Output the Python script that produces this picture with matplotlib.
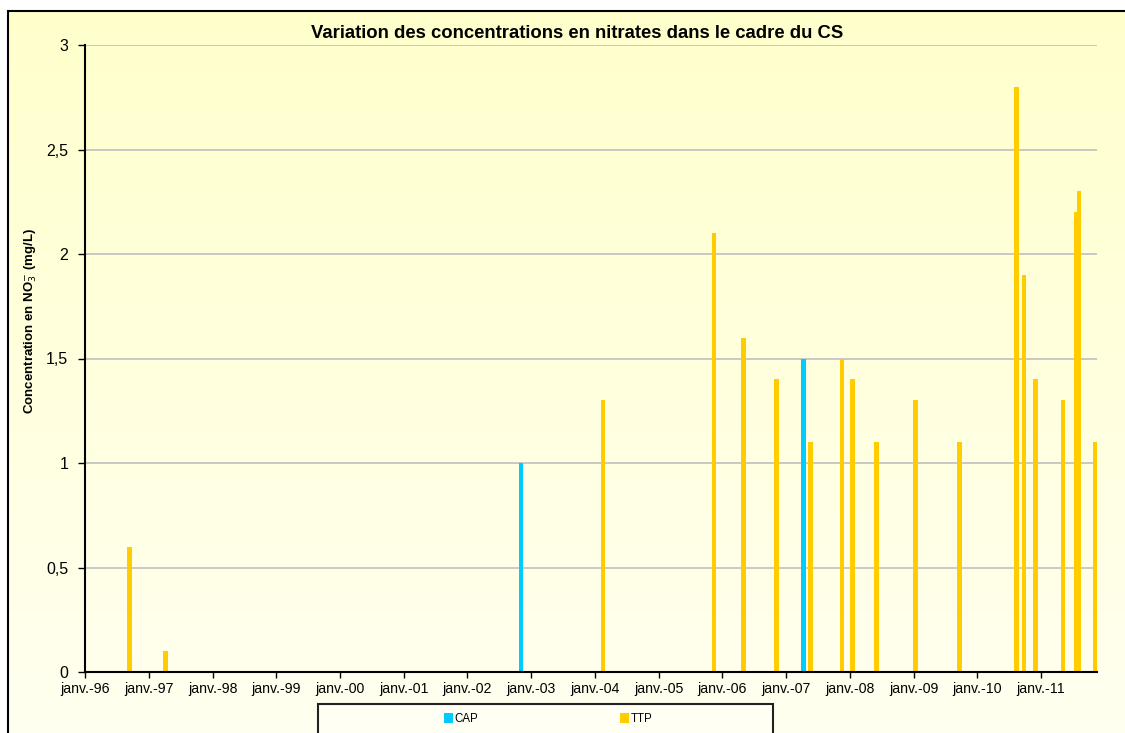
import numpy as np
import matplotlib
matplotlib.use("Agg")
import matplotlib.pyplot as plt
import matplotlib.dates as mdates
from matplotlib.patches import Rectangle
import pandas as pd

plt.rcParams['font.family'] = ['Liberation Sans', 'DejaVu Sans']

title = "Variation des concentrations en nitrates dans le cadre du CS"
ylabel = "Concentration en NO$_3^{-}$ (mg/L)"

cap_dates = ["2002-11-05", "2007-04-10"]
cap_values = [1.0, 1.5]

ttp_dates = ["1996-09-12", "1997-04-05", "2004-02-18", "2005-11-15", "2006-05-01",
             "2006-11-06", "2007-05-22", "2007-11-18", "2008-01-18", "2008-06-03",
             "2009-01-12", "2009-09-20", "2010-08-15", "2010-09-25", "2010-11-29",
             "2011-05-08", "2011-07-23", "2011-08-07", "2011-11-10"]
ttp_values = [0.6, 0.1, 1.3, 2.1, 1.6,
              1.4, 1.1, 1.5, 1.4, 1.1,
              1.3, 1.1, 2.8, 1.9, 1.4,
              1.3, 2.2, 2.3, 1.1]

tick_years = list(range(1996, 2012))
tick_labels = ["janv.-%02d" % (y % 100) for y in tick_years]
yticks = [0, 0.5, 1, 1.5, 2, 2.5, 3]
ytick_labels = ["0", "0,5", "1", "1,5", "2", "2,5", "3"]

W, H = 1125, 733
fig = plt.figure(figsize=(W / 100, H / 100), dpi=100)
fig.patch.set_facecolor("white")

# gradient background inside the outer border
bg = fig.add_axes([0, 0, 1, 1], zorder=-10)
grad = np.linspace(0, 1, 256).reshape(-1, 1)
top_c = np.array([255, 255, 204]) / 255.0
bot_c = np.array([255, 255, 240]) / 255.0
img = bot_c[None, None, :] * (1 - grad[:, :, None]) + top_c[None, None, :] * grad[:, :, None]
bx0 = 8 / W
by1 = 1 - 11 / H
bg.imshow(img, extent=[bx0, 1.0, 0.0, by1], origin="lower", aspect="auto")
bg.set_xlim(0, 1)
bg.set_ylim(0, 1)
bg.axis("off")
bg.add_patch(Rectangle((bx0, -0.1), 1.2, by1 + 0.1, fill=False, edgecolor="black", lw=1.5))

ax = fig.add_axes([85 / W, 61 / H, 1012 / W, 627 / H])
ax.patch.set_alpha(0)

cap_x = pd.to_datetime(cap_dates)
ttp_x = pd.to_datetime(ttp_dates)
bar_w = 26
ax.bar(cap_x, cap_values, width=bar_w, color="#00CCFF", label="CAP", zorder=3)
ax.bar(ttp_x, ttp_values, width=bar_w, color="#FFCC00", label="TTP", zorder=3)

ax.set_xlim(pd.Timestamp("1996-01-01"), pd.Timestamp("2011-11-18"))
ax.set_ylim(0, 3)
ax.xaxis.set_major_locator(plt.FixedLocator([mdates.date2num(pd.Timestamp(f"{y}-01-01")) for y in tick_years]))
ax.set_xticklabels(tick_labels)
ax.set_yticks(yticks)
ax.set_yticklabels(ytick_labels)
ax.tick_params(axis="x", labelsize=10.2, length=4, width=1, colors="black", pad=3)
ax.tick_params(axis="y", labelsize=11.5, length=5, width=1, pad=7)
ax.yaxis.grid(True, color="#C0C0C0", lw=1.2, zorder=0)
for s in ["top", "right"]:
    ax.spines[s].set_visible(False)
for s in ["left", "bottom"]:
    ax.spines[s].set_linewidth(1.5)
    ax.spines[s].set_zorder(5)

fig.text(30.5 / W, 1 - 321 / H, ylabel, rotation=90, ha="center", va="center",
         fontsize=9.5, fontweight="bold")
fig.text(577 / W, 1 - 33 / H, title, ha="center", va="center", fontsize=13.3, fontweight="bold")

# legend frame (cropped at bottom)
bg.add_patch(Rectangle((318 / W, -0.1), (773 - 318) / W, (733 - 704) / H + 0.1,
                       facecolor="#FFFFF4", edgecolor="#222222", lw=1.5))
handles, labels = ax.get_legend_handles_labels()
leg = fig.legend(handles, labels, loc="center", bbox_to_anchor=(548 / W, 1 - 719 / H),
                 ncol=2, frameon=False, fontsize=8.3, handlelength=0.75, handleheight=0.9,
                 handletextpad=0.15, columnspacing=12.3)

fig.savefig("out.png", dpi=100)
